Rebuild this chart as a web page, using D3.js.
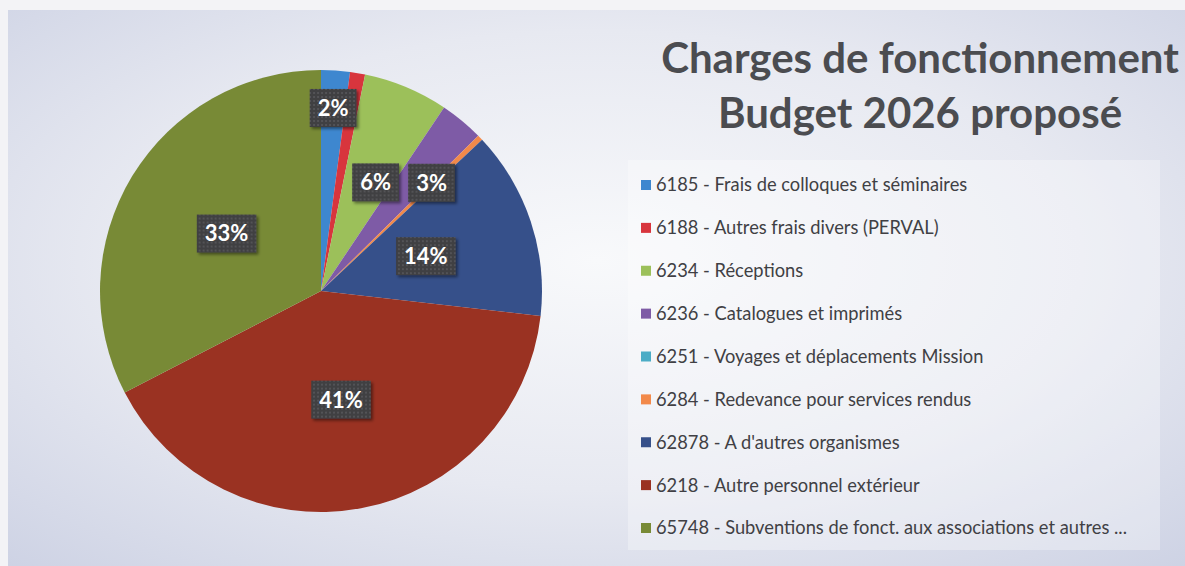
<!DOCTYPE html>
<html>
<head>
<meta charset="utf-8">
<script src="https://cdn.jsdelivr.net/npm/d3@7"></script>
<style>
  html, body { margin: 0; padding: 0; background: #f3f3f6; }
  svg { display: block; }
</style>
</head>
<body>
<div id="chart"></div>
<script>
// data
const codes = ['6185', '6188', '6234', '6236', '6251', '6284', '62878', '6218', '65748'];
const labels = [
    '6185 - Frais de colloques et séminaires',
    '6188  - Autres frais divers (PERVAL)',
    '6234 - Réceptions',
    '6236 - Catalogues et imprimés',
    '6251 - Voyages et déplacements Mission',
    '6284 - Redevance pour services rendus',
    "62878 - A d'autres organismes",
    '6218 - Autre personnel extérieur',
    '65748 - Subventions de fonct. aux associations et autres ...'
];
const shares = [2.1, 1.1, 6.2, 3.2, 0, 0.4, 13.8, 40.6, 32.6];
const colors = ['#3e87cf', '#d8353d', '#9cc05a', '#7e5ba6', '#4bacc6', '#f2894a', '#36508a', '#9a3222', '#788a36'];
const titleLines = ['Charges de fonctionnement', 'Budget 2026 proposé'];

const width = 1185, height = 566;
const cx = 321, cy = 291, radius = 221;

// label nudges (polar: radius factor, angle shift in degrees) for the small slices
const labelTweak = {
    '6185': {r: 0.83, da: 0},
    '6234': {r: 0.55, da: 4},
    '6236': {r: 0.70, da: 6}
};

let data = codes.map(function(c, i) {
    return {code: c, label: labels[i], value: shares[i], color: colors[i]};
});

let svg = d3.select('#chart').append('svg')
    .attr('width', width)
    .attr('height', height);

let defs = svg.append('defs');

// background wash like the scanned slide
let bg = defs.append('radialGradient')
    .attr('id', 'bgGrad')
    .attr('cx', '0.5').attr('cy', '0.45').attr('r', '0.75');
bg.append('stop').attr('offset', '0%').attr('stop-color', '#f8f9fb');
bg.append('stop').attr('offset', '55%').attr('stop-color', '#e7e9f1');
bg.append('stop').attr('offset', '100%').attr('stop-color', '#cdd2e4');

let dots = defs.append('pattern')
    .attr('id', 'dots')
    .attr('width', 4).attr('height', 4)
    .attr('patternUnits', 'userSpaceOnUse');
dots.append('rect').attr('width', 4).attr('height', 4).attr('fill', '#3f3f42');
dots.append('circle').attr('cx', 1).attr('cy', 1).attr('r', 0.8).attr('fill', '#6c6c70');

defs.append('filter')
    .attr('id', 'shadow')
    .attr('x', '-20%').attr('y', '-20%').attr('width', '150%').attr('height', '150%')
    .append('feDropShadow')
    .attr('dx', 2).attr('dy', 2).attr('stdDeviation', 1.5)
    .attr('flood-color', '#000').attr('flood-opacity', 0.45);

svg.append('rect')
    .attr('x', 8).attr('y', 10)
    .attr('width', width - 8).attr('height', height - 10)
    .attr('fill', 'url(#bgGrad)');

// pie
let pie = d3.pie()
    .sort(null)
    .value(function(d) { return d.value; });

let arc = d3.arc()
    .innerRadius(0)
    .outerRadius(radius);

let arcs = pie(data);

let g = svg.append('g')
    .attr('transform', 'translate(' + cx + ',' + cy + ')');

g.selectAll('path.slice')
    .data(arcs)
    .enter()
    .append('path')
    .attr('class', 'slice')
    .attr('d', arc)
    .attr('fill', function(d) { return d.data.color; });

// data labels (only those Excel shows)
let shown = arcs.filter(function(d) { return Math.round(d.data.value) >= 2; });

let lab = g.selectAll('g.lab')
    .data(shown)
    .enter()
    .append('g')
    .attr('class', 'lab')
    .attr('transform', function(d) {
        let t = labelTweak[d.data.code] || {r: 0.5, da: 0};
        let a = (d.startAngle + d.endAngle) / 2 + t.da * Math.PI / 180;
        let r = radius * t.r;
        return 'translate(' + (r * Math.sin(a)) + ',' + (-r * Math.cos(a)) + ')';
    });

lab.append('rect')
    .attr('fill', 'url(#dots)')
    .attr('filter', 'url(#shadow)');

lab.append('text')
    .attr('text-anchor', 'middle')
    .attr('dy', '0.36em')
    .attr('fill', '#ffffff')
    .style('font-family', 'Lato, "Open Sans", sans-serif')
    .style('font-weight', 'bold')
    .style('font-size', '22px')
    .text(function(d) { return Math.round(d.data.value) + '%'; });

lab.each(function() {
    let gg = d3.select(this);
    let w = gg.select('text').node().getComputedTextLength();
    gg.select('rect')
        .attr('x', -w / 2 - 8)
        .attr('y', -19)
        .attr('width', w + 16)
        .attr('height', 38);
});

// title
svg.append('text')
    .attr('x', 920)
    .attr('y', 73)
    .selectAll('tspan')
    .data(titleLines)
    .enter()
    .append('tspan')
    .attr('x', 920)
    .attr('dy', function(d, i) { return i === 0 ? 0 : 55; })
    .attr('text-anchor', 'middle')
    .attr('fill', '#4b4c50')
    .style('font-family', 'Lato, "Open Sans", sans-serif')
    .style('font-weight', 'bold')
    .style('font-size', '42px')
    .text(function(d) { return d; });

// legend
let legY = d3.scalePoint()
    .domain(codes)
    .range([185, 528]);

svg.append('rect')
    .attr('x', 628).attr('y', 160)
    .attr('width', 532).attr('height', 390)
    .attr('fill', '#ffffff')
    .attr('fill-opacity', 0.3);

let leg = svg.selectAll('g.leg')
    .data(data)
    .enter()
    .append('g')
    .attr('class', 'leg')
    .attr('transform', function(d) { return 'translate(641,' + legY(d.code) + ')'; });

leg.append('rect')
    .attr('x', 0).attr('y', -5)
    .attr('width', 10).attr('height', 10)
    .attr('fill', function(d) { return d.color; });

leg.append('text')
    .attr('x', 15)
    .attr('dy', '0.35em')
    .attr('fill', '#404044')
    .style('font-family', 'Lato, "Open Sans", sans-serif')
    .style('font-size', '18.3px')
    .text(function(d) { return d.label; });
</script>
</body>
</html>
